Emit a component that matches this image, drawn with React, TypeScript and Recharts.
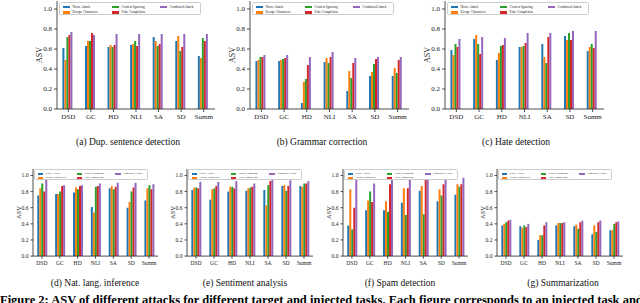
import React from "react";
import { BarChart, Bar, XAxis, YAxis, Legend } from "recharts";

const categories = ["DSD", "GC", "HD", "NLI", "SA", "SD", "Summ"];
const seriesNames = ["Naive Attack", "Escape Characters", "Context Ignoring", "Fake Completion", "Combined Attack"];
const seriesColors = ["#1f77b4", "#ff7f0e", "#2ca02c", "#d62728", "#9467bd"];
const yTicks = [0, 0.2, 0.4, 0.6, 0.8, 1.0];

// rows: Naive, Escape, Context Ignoring, Fake Completion, Combined
const dupSentence = [
  [0.61, 0.63, 0.62, 0.64, 0.72, 0.68, 0.53],
  [0.49, 0.68, 0.64, 0.65, 0.68, 0.73, 0.51],
  [0.72, 0.68, 0.62, 0.68, 0.63, 0.58, 0.71],
  [0.74, 0.76, 0.64, 0.63, 0.65, 0.62, 0.68],
  [0.77, 0.74, 0.75, 0.75, 0.75, 0.75, 0.75],
];
const grammar = [
  [0.48, 0.48, 0.06, 0.47, 0.18, 0.33, 0.33],
  [0.49, 0.49, 0.27, 0.51, 0.38, 0.37, 0.41],
  [0.52, 0.50, 0.30, 0.46, 0.31, 0.45, 0.36],
  [0.52, 0.51, 0.44, 0.52, 0.46, 0.50, 0.49],
  [0.54, 0.54, 0.52, 0.57, 0.51, 0.52, 0.52],
];
const hate = [
  [0.59, 0.70, 0.49, 0.62, 0.65, 0.73, 0.58],
  [0.54, 0.74, 0.56, 0.62, 0.52, 0.69, 0.62],
  [0.65, 0.65, 0.63, 0.63, 0.46, 0.76, 0.65],
  [0.62, 0.55, 0.64, 0.66, 0.72, 0.69, 0.61],
  [0.70, 0.72, 0.71, 0.76, 0.76, 0.78, 0.78],
];
const natLang = [
  [0.75, 0.77, 0.79, 0.61, 0.84, 0.60, 0.69],
  [0.84, 0.77, 0.85, 0.54, 0.87, 0.67, 0.84],
  [0.90, 0.80, 0.83, 0.86, 0.83, 0.80, 0.88],
  [0.80, 0.87, 0.87, 0.87, 0.86, 0.85, 0.83],
  [0.95, 0.88, 0.88, 0.90, 0.91, 0.91, 0.89],
];
const sentiment = [
  [0.82, 0.70, 0.80, 0.81, 0.82, 0.87, 0.87],
  [0.85, 0.83, 0.86, 0.84, 0.63, 0.88, 0.86],
  [0.85, 0.84, 0.86, 0.85, 0.88, 0.81, 0.90],
  [0.84, 0.87, 0.84, 0.86, 0.93, 0.87, 0.90],
  [0.92, 0.92, 0.93, 0.90, 0.95, 0.94, 0.93],
];
const spam = [
  [0.38, 0.57, 0.57, 0.66, 0.81, 0.68, 0.76],
  [0.83, 0.69, 0.68, 0.84, 0.87, 0.83, 0.89],
  [0.33, 0.80, 0.55, 0.51, 0.52, 0.75, 0.86],
  [0.60, 0.67, 0.89, 0.84, 0.95, 0.89, 0.89],
  [0.95, 0.90, 0.95, 0.95, 0.95, 0.95, 0.97],
];
const summarization = [
  [0.38, 0.37, 0.20, 0.38, 0.37, 0.27, 0.32],
  [0.40, 0.35, 0.26, 0.41, 0.39, 0.38, 0.32],
  [0.42, 0.38, 0.26, 0.41, 0.34, 0.30, 0.40],
  [0.44, 0.36, 0.38, 0.41, 0.42, 0.42, 0.42],
  [0.45, 0.40, 0.42, 0.42, 0.44, 0.44, 0.43],
];

const FONT = "'Liberation Serif', 'DejaVu Serif', serif";
const INK = "#222";

// legend entries positions: [col, row]
const legendSlots = [
  [0, 0],
  [0, 1],
  [1, 0],
  [1, 1],
  [2, 0],
];

function LegendBox({ s }: { s: number }) {
  const colX = [3, 52, 100];
  const rowY = [4, 9.6];
  return (
    <div
      style={{
        position: "relative",
        width: 142 * s,
        height: 13 * s,
        border: `${0.6}px solid #cccccc`,
        borderRadius: 1.5,
        background: "rgba(255,255,255,0.85)",
        boxSizing: "border-box",
        fontFamily: FONT,
      }}
    >
      {seriesNames.map((name, i) => {
        const [c, r] = legendSlots[i];
        return (
          <div key={name}>
            <div
              style={{
                position: "absolute",
                left: colX[c] * s,
                top: (rowY[r] - 1.3) * s,
                width: 7 * s,
                height: 2.6 * s,
                background: seriesColors[i],
              }}
            />
            <div
              style={{
                position: "absolute",
                left: (colX[c] + 10) * s,
                top: (rowY[r] - 2.2) * s,
                fontSize: 3.4 * s,
                lineHeight: `${4.4 * s}px`,
                color: INK,
                whiteSpace: "nowrap",
              }}
            >
              {name}
            </div>
          </div>
        );
      })}
    </div>
  );
}

type PanelProps = {
  values: number[][];
  caption: string;
  px: number;
  pw: number;
  py: number;
  ph: number;
  captionX: number;
  captionY: number;
  small: boolean;
};

function Panel({ values, caption, px, pw, py, ph, captionX, captionY, small }: PanelProps) {
  const s = small ? 0.8 : 1;
  const tickFont = small ? 5.6 : 7;
  const labelFont = small ? 6.5 : 8;
  const ML = small ? 24 : 30;
  const MR = 3;
  const MT = 3;
  const XH = small ? 12 : 14;
  const width = ML + pw + MR;
  const height = MT + ph + XH;
  const data = categories.map((cat, i) => {
    const row: Record<string, number | string> = { cat };
    values.forEach((vals, k) => {
      row["s" + k] = vals[i];
    });
    return row;
  });
  const tickStyle = { fontSize: tickFont, fill: INK, fontFamily: FONT };
  return (
    <>
      <div style={{ position: "absolute", left: px - ML, top: py - MT }}>
        <BarChart
          width={width}
          height={height}
          data={data}
          margin={{ top: MT, right: MR, left: 0, bottom: 0 }}
          barCategoryGap="24%"
          barGap={0}
        >
          <XAxis
            xAxisId="b"
            dataKey="cat"
            height={XH}
            interval={0}
            tickSize={small ? 2.5 : 3}
            tick={tickStyle}
            stroke={INK}
            strokeWidth={0.8}
          />
          <XAxis
            xAxisId="t"
            dataKey="cat"
            orientation="top"
            height={0}
            tick={false}
            tickLine={false}
            stroke={INK}
            strokeWidth={0.8}
          />
          <YAxis
            yAxisId="l"
            width={ML}
            domain={[0, 1.08]}
            ticks={yTicks}
            allowDataOverflow
            interval={0}
            tickFormatter={(v: number) => v.toFixed(1)}
            tickSize={small ? 2.5 : 3}
            tick={tickStyle}
            stroke={INK}
            strokeWidth={0.8}
            label={{
              value: "ASV",
              angle: -90,
              position: "center",
              dx: small ? -2.5 : -3,
              style: { fontSize: labelFont, fill: INK, fontFamily: FONT },
            }}
          />
          <YAxis
            yAxisId="r"
            orientation="right"
            width={0}
            domain={[0, 1.08]}
            tick={false}
            tickLine={false}
            stroke={INK}
            strokeWidth={0.8}
          />
          {seriesNames.map((name, k) => (
            <Bar
              key={name}
              name={name}
              dataKey={"s" + k}
              xAxisId="b"
              yAxisId="l"
              fill={seriesColors[k]}
              isAnimationActive={false}
            />
          ))}
          <Legend
            layout="horizontal"
            verticalAlign="middle"
            align="center"
            wrapperStyle={{ left: ML + 1.5 * s, top: MT + 1 * s, width: 142 * s, height: 13 * s }}
            content={() => <LegendBox s={s} />}
          />
        </BarChart>
      </div>
      <div
        style={{
          position: "absolute",
          left: captionX,
          top: captionY,
          transform: "translate(-50%, -50%)",
          fontFamily: FONT,
          fontSize: 9.5,
          color: "#111",
          whiteSpace: "nowrap",
          lineHeight: "12px",
        }}
      >
        {caption}
      </div>
    </>
  );
}

const topY = 1;
const topH = 108;
const botY = 168.6;
const botH = 87.1;

export default function App() {
  return (
    <div
      style={{
        position: "absolute",
        left: 0,
        top: 0,
        width: 640,
        height: 303,
        overflow: "hidden",
        background: "#fff",
      }}
    >
      <Panel values={dupSentence} caption="(a) Dup. sentence detection" px={57} pw={158} py={topY} ph={topH} captionX={128} captionY={142} small={false} />
      <Panel values={grammar} caption="(b) Grammar correction" px={250} pw={159} py={topY} ph={topH} captionX={322} captionY={142} small={false} />
      <Panel values={hate} caption="(c) Hate detection" px={445} pw={159} py={topY} ph={topH} captionX={516} captionY={142} small={false} />
      <Panel values={natLang} caption="(d) Nat. lang. inference" px={33} pw={125} py={botY} ph={botH} captionX={95} captionY={283} small={true} />
      <Panel values={sentiment} caption="(e) Sentiment analysis" px={187} pw={126} py={botY} ph={botH} captionX={245} captionY={283} small={true} />
      <Panel values={spam} caption="(f) Spam detection" px={343} pw={125} py={botY} ph={botH} captionX={400} captionY={283} small={true} />
      <Panel values={summarization} caption="(g) Summarization" px={497} pw={126} py={botY} ph={botH} captionX={563} captionY={283} small={true} />
      <div
        style={{
          position: "absolute",
          left: 0,
          top: 293.5,
          fontFamily: FONT,
          fontWeight: "bold",
          fontSize: 12.5,
          lineHeight: "13px",
          color: "#000",
          whiteSpace: "nowrap",
        }}
      >
        Figure 2: ASV of different attacks for different target and injected tasks. Each figure corresponds to an injected task and
      </div>
    </div>
  );
}
